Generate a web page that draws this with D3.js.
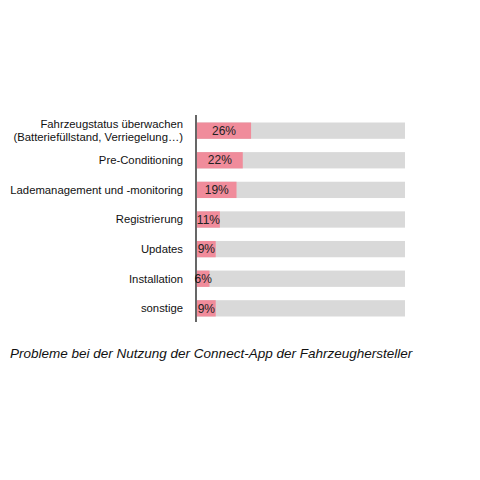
<!DOCTYPE html>
<html><head><meta charset="utf-8">
<script src="https://cdn.jsdelivr.net/npm/d3@7"></script>
<style>body{margin:0;background:#fff}</style></head>
<body><svg id="c" width="480" height="480"></svg>
<script>
const categories = [["Fahrzeugstatus überwachen","(Batteriefüllstand, Verriegelung…)"],["Pre-Conditioning"],["Lademanagement und -monitoring"],["Registrierung"],["Updates"],["Installation"],["sonstige"]];
const values = [26,22,19,11,9,6,9];
const labels = ["26%","22%","19%","11%","9%","6%","9%"];
const title = "Probleme bei der Nutzung der Connect-App der Fahrzeughersteller";

const svg = d3.select("#c");
const x = d3.scaleLinear().domain([0,100]).range([197,405]);
const y = d3.scaleBand().domain(d3.range(values.length)).range([116,323]).paddingInner(0.45).paddingOuter(0.22);
const font = "Liberation Sans, Arial, sans-serif";

svg.selectAll("rect.bg").data(values).join("rect")
 .attr("x",x(0)).attr("y",(d,i)=>y(i)).attr("width",x(100)-x(0)).attr("height",y.bandwidth()).attr("fill","#d9d9d9");
svg.selectAll("rect.v").data(values).join("rect").attr("class","v")
 .attr("x",x(0)).attr("y",(d,i)=>y(i)).attr("width",d=>x(d)-x(0)).attr("height",y.bandwidth()).attr("fill","#f08c9b");
svg.selectAll("text.l").data(values).join("text")
 .attr("x",d=>(x(0)+x(d))/2).attr("y",(d,i)=>y(i)+y.bandwidth()/2).attr("dy","0.35em")
 .attr("text-anchor","middle").attr("font-family",font).attr("font-size",12).attr("fill","#222")
 .text((d,i)=>labels[i]);
categories.forEach((c,i)=>{
  const t = svg.append("text").attr("x",183).attr("text-anchor","end").attr("font-family",font).attr("font-size",11.3).attr("fill","#111");
  const cy = y(i)+y.bandwidth()/2;
  c.forEach((line,k)=>t.append("tspan").attr("x",183).attr("y",cy+(k-(c.length-1)/2)*13.5).attr("dy","0.35em").text(line));
});
svg.append("line").attr("x1",196).attr("x2",196).attr("y1",115).attr("y2",322).attr("stroke","#000").attr("stroke-width",1.2);
svg.append("text").attr("x",10).attr("y",358).attr("text-anchor","start").attr("font-family",font)
 .attr("font-size",13.5).attr("font-style","italic").attr("fill","#111").text(title);
</script></body></html>
